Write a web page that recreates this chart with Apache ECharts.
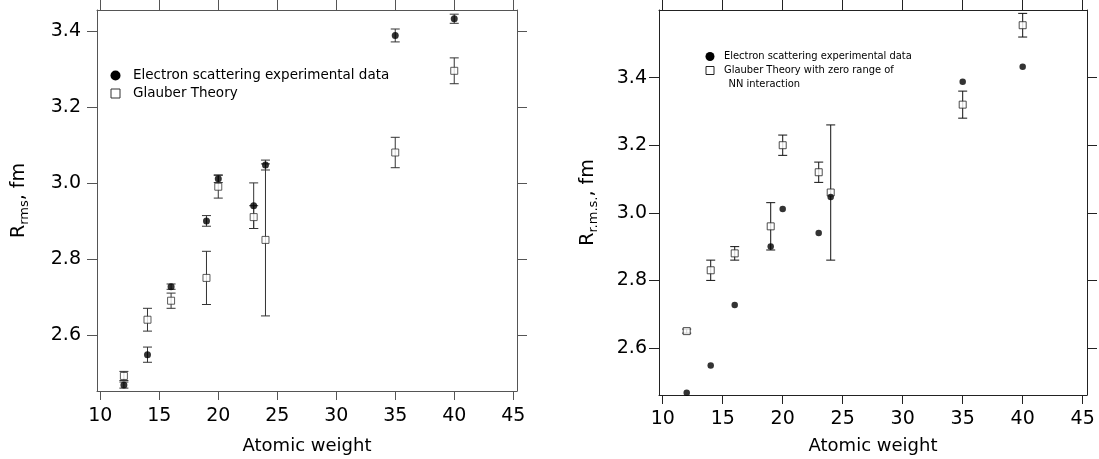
<!DOCTYPE html>
<html>
<head>
<meta charset="utf-8">
<script src="https://cdn.jsdelivr.net/npm/echarts@6/dist/echarts.min.js"></script>
<style>
  html, body { margin: 0; padding: 0; background: #fff; }
  #chart { width: 1099px; height: 459px; }
</style>
</head>
<body>
<div id="chart"></div>
<script>
// atomic weights of the nuclei
const atomicWeight = [12, 14, 16, 19, 20, 23, 24, 35, 40];

// electron scattering (same points on both panels)
const electronRms = [2.468, 2.548, 2.727, 2.90, 3.011, 2.94, 3.047, 3.388, 3.432];
const electronErr = [0.008, 0.02, 0.007, 0.014, 0.01, 0.06, 0.013, 0.017, 0.012];

// left panel: Glauber theory
const glauberRms = [2.492, 2.64, 2.69, 2.75, 2.99, 2.91, 2.85, 3.08, 3.295];
const glauberErr = [0.012, 0.03, 0.02, 0.07, 0.03, 0.03, 0.2, 0.04, 0.034];

// right panel: Glauber theory with zero range of NN interaction
const zeroRangeRms = [2.65, 2.83, 2.88, 2.96, 3.20, 3.12, 3.06, 3.32, 3.555];
const zeroRangeErr = [0.006, 0.03, 0.02, 0.07, 0.03, 0.03, 0.2, 0.04, 0.035];

const xTicks = [10, 15, 20, 25, 30, 35, 40, 45];
const yTicks = [2.6, 2.8, 3.0, 3.2, 3.4];

const font = "'DejaVu Sans', sans-serif";

const points = (vals) => atomicWeight.map((a, i) => [a, vals[i]]);
const bars = (vals, errs) => atomicWeight.map((a, i) => [a, vals[i] - errs[i], vals[i] + errs[i]]);

function errorBar(color) {
  return function (params, api) {
    const x = api.value(0);
    const top = api.coord([x, api.value(2)]);
    const bot = api.coord([x, api.value(1)]);
    const hw = 4.5;
    const style = { stroke: color, lineWidth: 1 };
    return {
      type: 'group',
      children: [
        { type: 'line', shape: { x1: top[0], y1: top[1], x2: bot[0], y2: bot[1] }, style },
        { type: 'line', shape: { x1: top[0] - hw, y1: top[1], x2: top[0] + hw, y2: top[1] }, style },
        { type: 'line', shape: { x1: bot[0] - hw, y1: bot[1], x2: bot[0] + hw, y2: bot[1] }, style },
      ],
    };
  };
}

function xAxes(grid, min, max, color, gap, margin) {
  const line = { show: true, lineStyle: { color: color, width: 1 } };
  return [
    {
      type: 'value', gridIndex: grid, position: 'bottom', min, max,
      axisLine: line, splitLine: { show: false },
      axisTick: { show: true, inside: false, length: 9, customValues: xTicks, lineStyle: { color: color } },
      axisLabel: { show: true, customValues: xTicks, margin: margin, fontSize: 19, fontFamily: font, color: '#000' },
      name: 'Atomic weight', nameLocation: 'middle', nameGap: gap,
      nameTextStyle: { fontSize: 18, fontFamily: font, color: '#000' },
    },
    {
      type: 'value', gridIndex: grid, position: 'top', min, max,
      axisLine: line, splitLine: { show: false },
      axisTick: { show: true, inside: false, length: 10, customValues: xTicks, lineStyle: { color: color } },
      axisLabel: { show: false },
    },
  ];
}

function yAxes(grid, min, max, color, name, gap, margin) {
  const line = { show: true, lineStyle: { color: color, width: 1 } };
  return [
    {
      type: 'value', gridIndex: grid, position: 'left', min, max,
      axisLine: line, splitLine: { show: false },
      axisTick: { show: true, inside: false, length: 10, customValues: yTicks, lineStyle: { color: color } },
      axisLabel: {
        show: true, customValues: yTicks, margin: margin, fontSize: 19, fontFamily: font, color: '#000',
        formatter: (v) => v.toFixed(1),
      },
      name: name, nameLocation: 'middle', nameGap: gap, nameRotate: 90,
      nameTextStyle: {
        fontSize: 19, fontFamily: font, color: '#000',
        rich: { sub: { fontSize: 13, fontFamily: font, color: '#000', padding: [10, 0, 0, 0] } },
      },
    },
    {
      type: 'value', gridIndex: grid, position: 'right', min, max,
      axisLine: line, splitLine: { show: false },
      axisTick: { show: true, inside: false, length: 10, customValues: yTicks, lineStyle: { color: color } },
      axisLabel: { show: false },
    },
  ];
}

const chart = echarts.init(document.getElementById('chart'));

const option = {
  animation: false,
  backgroundColor: '#fff',
  grid: [
    { left: 97, top: 10, width: 420, height: 381, outerBoundsMode: 'none', containLabel: false },
    { left: 659, top: 10, width: 428, height: 385, outerBoundsMode: 'none', containLabel: false },
  ],
  xAxis: [
    ...xAxes(0, 9.72, 45.32, '#555', 46, 16),
    ...xAxes(1, 9.69, 45.36, '#222', 42, 15),
  ],
  yAxis: [
    ...yAxes(0, 2.4524, 3.455, '#555', 'R{sub|rms}, fm', 66, 16),
    ...yAxes(1, 2.461, 3.6, '#222', 'R{sub|r.m.s.}, fm', 59, 12),
  ],
  series: [
    {
      type: 'custom', xAxisIndex: 0, yAxisIndex: 0, z: 2,
      renderItem: errorBar('#333'), encode: { x: 0, y: [1, 2] },
      data: bars(electronRms, electronErr),
    },
    {
      type: 'custom', xAxisIndex: 0, yAxisIndex: 0, z: 2,
      renderItem: errorBar('#333'), encode: { x: 0, y: [1, 2] },
      data: bars(glauberRms, glauberErr),
    },
    {
      type: 'scatter', name: 'Glauber Theory', xAxisIndex: 0, yAxisIndex: 0, z: 3,
      symbol: 'rect', symbolSize: 7,
      itemStyle: { color: '#fff', borderColor: '#333', borderWidth: 1 },
      data: points(glauberRms),
    },
    {
      type: 'scatter', name: 'Electron scattering experimental data', xAxisIndex: 0, yAxisIndex: 0, z: 4,
      symbol: 'circle', symbolSize: 7,
      itemStyle: { color: '#000' },
      data: points(electronRms),
    },
    {
      type: 'custom', xAxisIndex: 2, yAxisIndex: 2, z: 2,
      renderItem: errorBar('#111'), encode: { x: 0, y: [1, 2] },
      data: bars(zeroRangeRms, zeroRangeErr),
    },
    {
      type: 'scatter', name: 'Glauber Theory with zero range of NN interaction', xAxisIndex: 2, yAxisIndex: 2, z: 3,
      symbol: 'rect', symbolSize: 7,
      itemStyle: { color: '#fff', borderColor: '#222', borderWidth: 1 },
      data: points(zeroRangeRms),
    },
    {
      type: 'scatter', name: 'Electron scattering experimental data', xAxisIndex: 2, yAxisIndex: 2, z: 4,
      symbol: 'circle', symbolSize: 6.5,
      itemStyle: { color: '#000' },
      data: points(electronRms),
    },
  ],
  graphic: [
    // left legend
    { type: 'circle', shape: { cx: 115.5, cy: 75.5, r: 5 }, style: { fill: '#000' } },
    { type: 'rect', shape: { x: 111, y: 89, width: 9, height: 9 }, style: { fill: '#fff', stroke: '#333', lineWidth: 1 } },
    {
      type: 'text', x: 133, y: 75.5,
      style: { text: 'Electron scattering experimental data', fontSize: 13.5, fontFamily: font, fill: '#000', verticalAlign: 'middle' },
    },
    {
      type: 'text', x: 133, y: 93.5,
      style: { text: 'Glauber Theory', fontSize: 13.5, fontFamily: font, fill: '#000', verticalAlign: 'middle' },
    },
    // right legend
    { type: 'circle', shape: { cx: 710, cy: 56.5, r: 4.5 }, style: { fill: '#000' } },
    { type: 'rect', shape: { x: 706, y: 66.5, width: 8, height: 8 }, style: { fill: '#fff', stroke: '#222', lineWidth: 1 } },
    {
      type: 'text', x: 724, y: 56.5,
      style: { text: 'Electron scattering experimental data', fontSize: 11, fontFamily: "'DejaVu Sans Condensed', " + font, fill: '#000', verticalAlign: 'middle' },
    },
    {
      type: 'text', x: 724, y: 70.5,
      style: { text: 'Glauber Theory with zero range of', fontSize: 11, fontFamily: "'DejaVu Sans Condensed', " + font, fill: '#000', verticalAlign: 'middle' },
    },
    {
      type: 'text', x: 728.5, y: 84.5,
      style: { text: 'NN interaction', fontSize: 11, fontFamily: "'DejaVu Sans Condensed', " + font, fill: '#000', verticalAlign: 'middle' },
    },
  ],
};

chart.setOption(option);
window.addEventListener('resize', chart.resize);
</script>
</body>
</html>
